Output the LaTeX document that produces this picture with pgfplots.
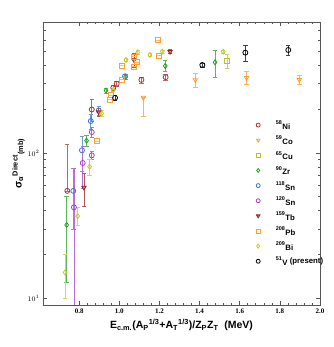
\documentclass[border=0pt]{standalone}
\usepackage{pgfplots}
\pgfplotsset{compat=1.18}
\usepackage{fontspec}
\setmainfont{Liberation Sans}
\newfontfamily\serifx{Liberation Serif}

\definecolor{niC}{HTML}{A83434}
\definecolor{coC}{HTML}{FF9A2E}
\definecolor{cuC}{HTML}{BDBD3A}
\definecolor{zrC}{HTML}{22A022}
\definecolor{snaC}{HTML}{3A78C8}
\definecolor{snbC}{HTML}{A53BC8}
\definecolor{tbC}{HTML}{9B1E1E}
\definecolor{pbC}{HTML}{FFA035}
\definecolor{biC}{HTML}{C8C828}
\definecolor{axC}{HTML}{555555}

\newcommand{\nuc}[2]{\textsuperscript{#1}\raisebox{-0.45ex}{#2}}

\pgfplotsset{
  ser/.style={only marks, thick, mark size=2.5pt, mark options={solid, thick, #1, fill=white},
    color=#1,
    error bars/y dir=both, error bars/y explicit,
    error bars/error bar style={#1!75, line width=0.7pt},
    error bars/error mark options={rotate=90, mark size=2.2pt, #1!75, line width=0.7pt}},
}

\begin{document}
\begin{tikzpicture}
\begin{semilogyaxis}[
  scale only axis, width=277pt, height=283pt,
  xmin=0.62, xmax=2.0, ymin=8.95, ymax=800,
  xtick={0.8,1.0,1.2,1.4,1.6,1.8,2.0},
  xticklabels={0.8,1.0,1.2,1.4,1.6,1.8,2.0},
  minor x tick num=4,
  ytick={10,100,1000},
  tick align=inside,
  major tick length=4pt, minor tick length=2.5pt,
  axis line style={axC, line width=0.9pt},
  every tick/.style={axC, line width=0.6pt},
  tick label style={font=\serifx\bfseries\fontsize{7}{8}\selectfont},
  /pgf/number format/assume math mode=true,
  xlabel={\bfseries E\textsubscript{c.m.}(A\textsubscript{P}\textsuperscript{1/3}+A\textsubscript{T}\textsuperscript{1/3})/Z\textsubscript{P}Z\textsubscript{T}\ \ (MeV)},
  ylabel={\bfseries σ\textsubscript{α}\textsuperscript{Direct}\textsubscript{(mb)}},
  label style={font=\fontsize{10.5}{12}\selectfont},
  xlabel style={yshift=1pt},
  ylabel style={yshift=-4pt},
  legend style={at={(0.755,0.665)}, anchor=north west, draw=none, fill=none,
    font=\bfseries\fontsize{7.8}{9.5}\selectfont, row sep=3pt, legend cell align=left},
  legend image code/.code={\path[draw=none] (0cm,0cm) -- (0.65cm,0cm);\draw[mark size=2pt] plot coordinates {(0.1cm,0cm)};},
]
% 58Ni
\addplot[ser=niC, mark=o] coordinates {
 (0.741,54.8) += (0,60) -= (0,0)
 (0.863,199.5) +- (0,33)
 (0.970,281) +- (0,12)
 (0.987,300) +- (0,12)
 (1.110,319) +- (0,15)
 (1.231,333) +- (0,14)
};
\addlegendentry{\nuc{58}{Ni}}
% 59Co
\addplot[ser=coC, mark=triangle, mark options={rotate=180}] coordinates {
 (1.120,241) += (0,0) -= (0,62)
 (1.379,319) +- (0,35)
 (1.634,330) +- (0,33)
 (1.897,320) +- (0,23)
};
\addlegendentry{\nuc{59}{Co}}
% 65Cu
\addplot[ser=cuC, mark=square] coordinates {
 (1.538,433) +- (0,48)
};
\addlegendentry{\nuc{65}{Cu}}
% 90Zr
\addplot[ser=zrC, mark=diamond] coordinates {
 (0.738,31.9) += (0,18) -= (0,19)
 (0.837,121.6) +- (0,10)
 (0.934,269.5) +- (0,10)
 (1.031,333.7) +- (0,12)
 (1.229,398) +- (0,35)
 (1.477,421.7) +- (0,90)
};
\addlegendentry{\nuc{90}{Zr}}
% 118Sn
\addplot[ser=snaC, mark=o] coordinates {
 (0.771,54.8) += (0,24) -= (0,25)
 (0.814,104.3) += (0,26) -= (0,30)
 (0.858,165.9) +- (0,20)
 (0.8975,196) +- (0,14)
 (1.0286,338) +- (0,12)
};
\addlegendentry{\nuc{118}{Sn}}
% 120Sn
\addplot[ser=snbC, mark=o] coordinates {
 (0.774,42.2) += (0,36) -= (0,41.9)
 (0.818,85.3) += (0,25) -= (0,28)
 (0.863,96.3) +- (0,6)
 (0.863,139.3) +- (0,12)
};
\addlegendentry{\nuc{120}{Sn}}
% 159Tb
\addplot[ser=tbC, mark=triangle*, mark options={rotate=180, fill=tbC!55}] coordinates {
 (0.824,57.8) +- (0,15)
 (0.8975,191.2) +- (0,12)
 (1.073,438) +- (0,50)
 (1.253,499.5) +- (0,15)
};
\addlegendentry{\nuc{159}{Tb}}
% 208Pb
\addplot[ser=pbC, mark=square] coordinates {
 (0.8876,120.9) +- (0,0)
 (0.954,233) +- (0,0)
 (0.956,250) +- (0,0)
 (1.012,320.7) +- (0,0)
 (1.012,400) +- (0,0)
 (1.073,461) +- (0,0)
 (1.090,421.7) +- (0,0)
 (1.073,394) +- (0,0)
 (1.1945,601) +- (0,0)
 (1.196,469) +- (0,0)
};
\addlegendentry{\nuc{208}{Pb}}
% 209Bi
\addplot[ser=biC, mark=diamond] coordinates {
 (0.730,15.0) += (0,5.1) -= (0,5)
 (0.793,36.7) += (0,5.7) -= (0,4.8)
 (0.852,80.4) += (0,10) -= (0,10)
 (0.9125,187.4) +- (0,8)
 (0.970,272.5) +- (0,8)
 (1.0335,438) +- (0,12)
 (1.092,494) +- (0,12)
 (1.153,474) +- (0,12)
 (1.2144,499.5) +- (0,12)
 (1.518,499.5) +- (0,12)
};
\addlegendentry{\nuc{209}{Bi}}
% 51V present
\addplot[ser=black, mark=o] coordinates {
 (0.979,240) +- (0,10)
 (1.4137,404.5) +- (0,12)
 (1.628,491.7) +- (0,64)
 (1.842,513) +- (0,40)
};
\addlegendentry{\nuc{51}{V} (present)}
\end{semilogyaxis}
\pgfresetboundingbox
\path[use as bounding box] (-43pt,-42pt) rectangle (290pt,305pt);
\end{tikzpicture}
\end{document}
